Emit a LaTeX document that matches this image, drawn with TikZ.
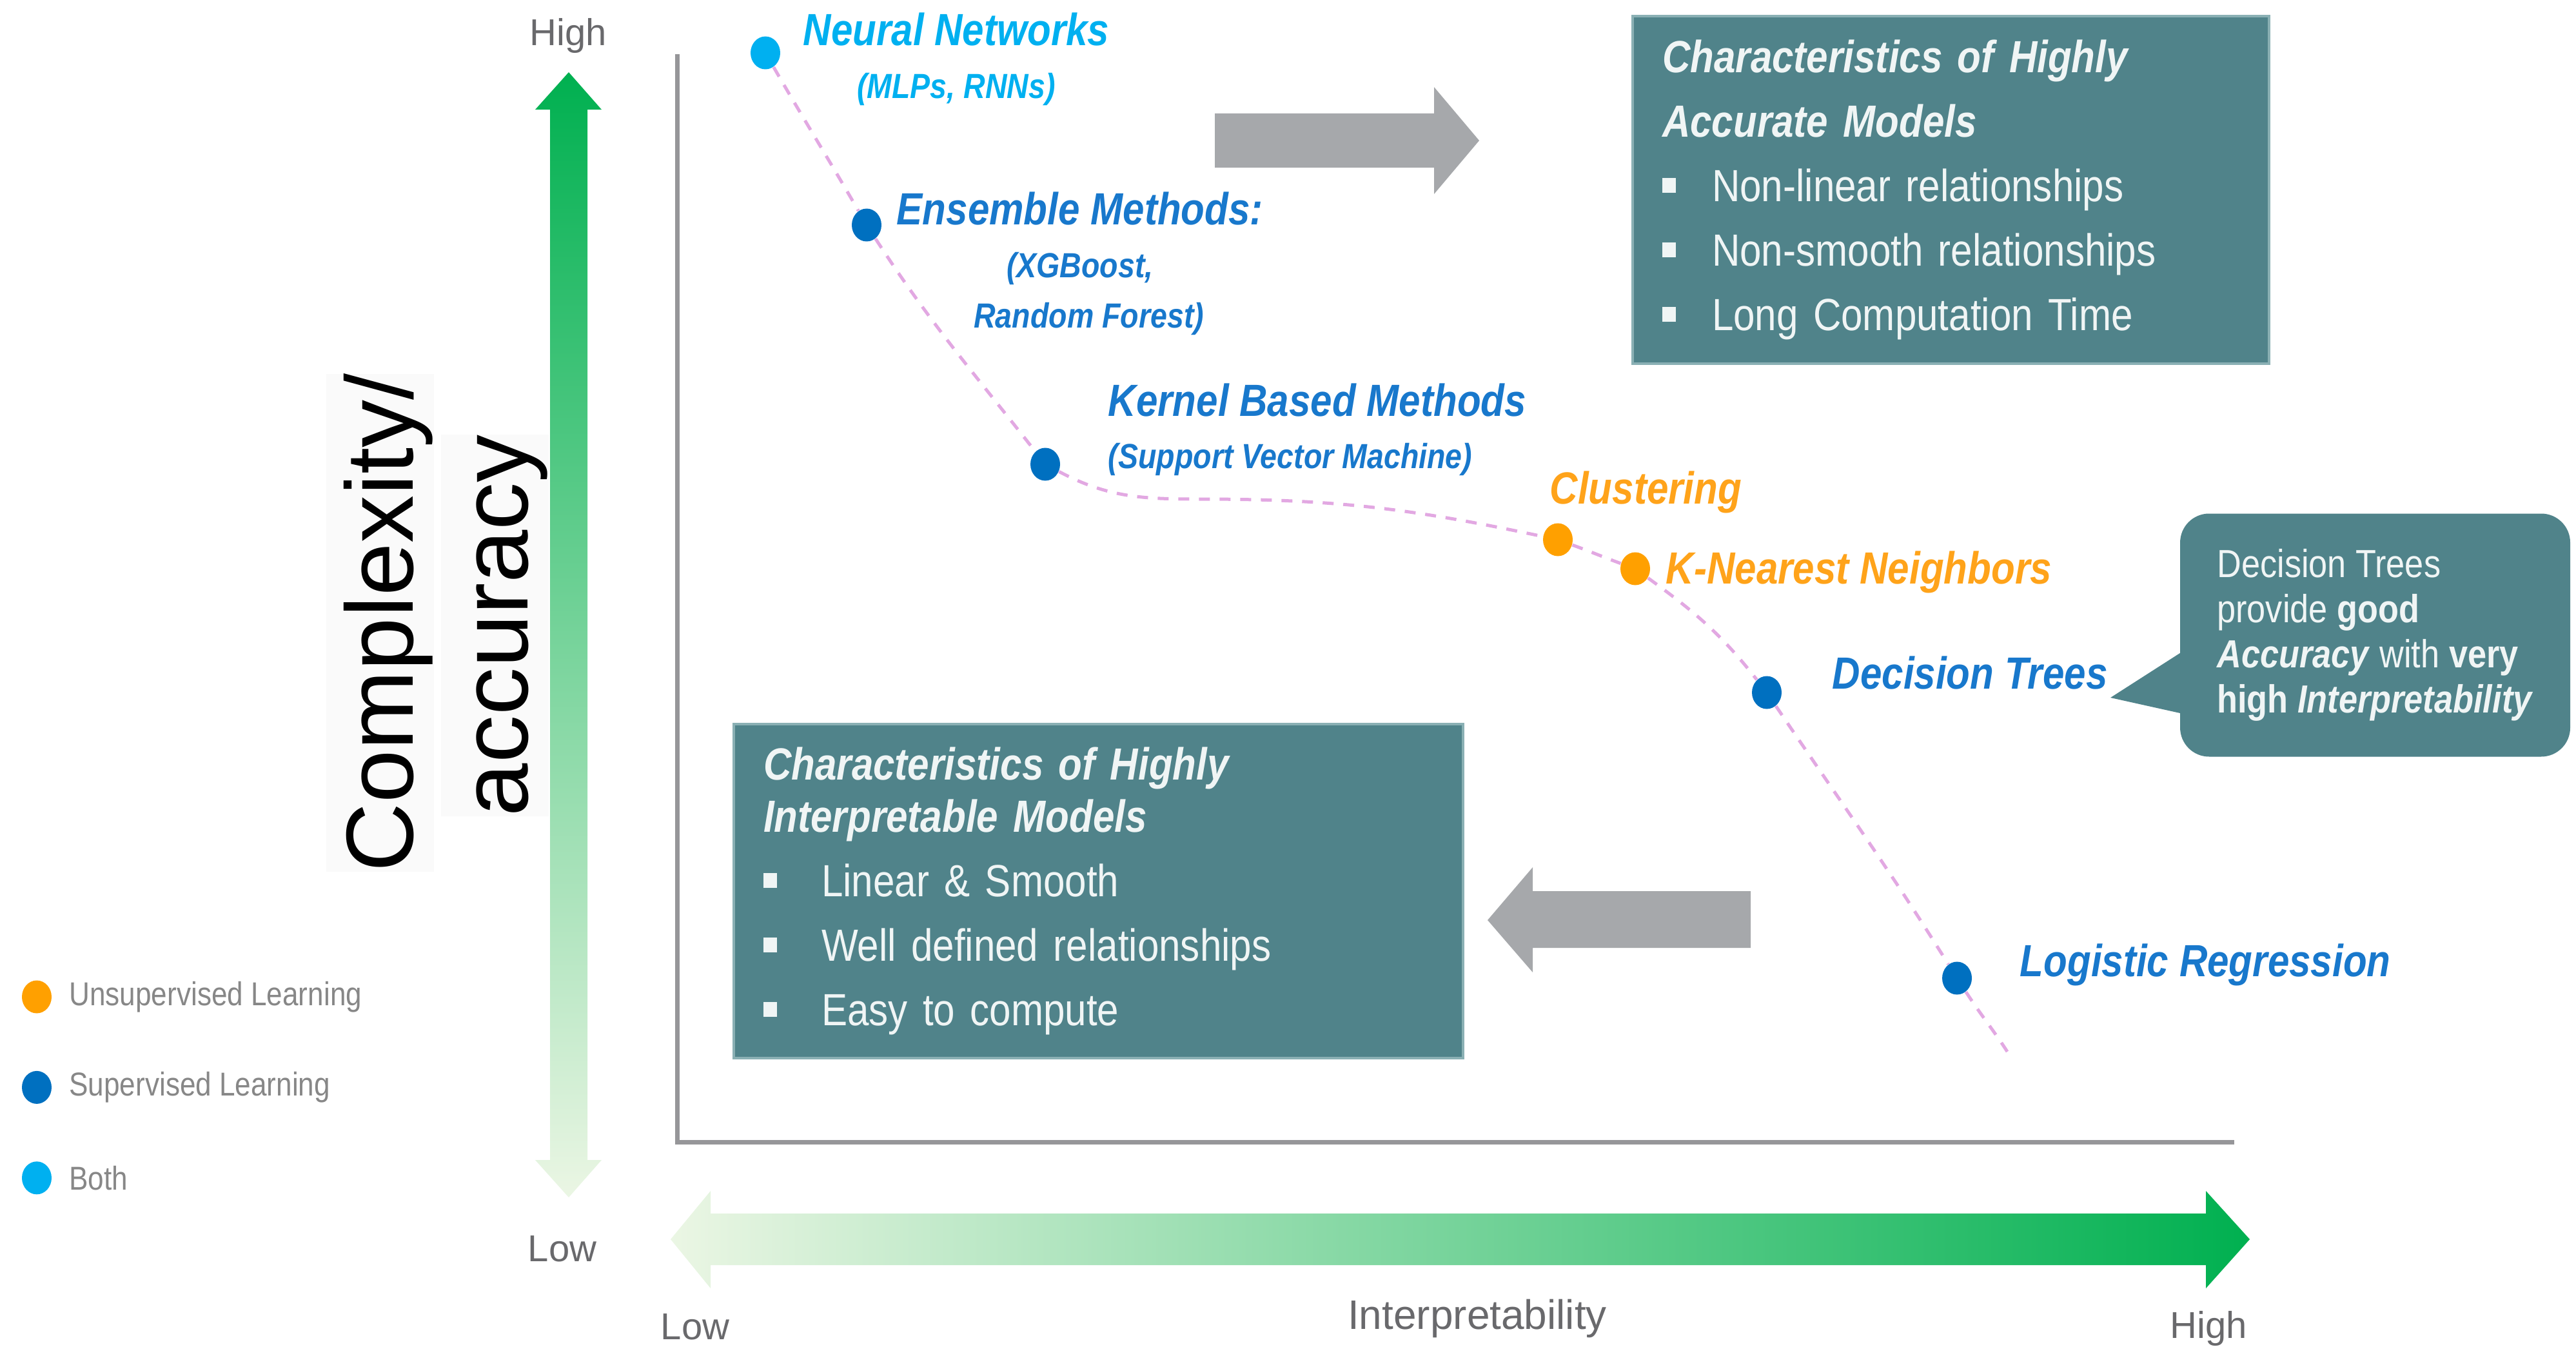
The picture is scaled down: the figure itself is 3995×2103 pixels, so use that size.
\documentclass[tikz,border=0pt]{standalone}
\usepackage{fontspec}
\setmainfont{Liberation Sans}
\newfontfamily\narrowsf{Liberation Sans}[FakeStretch=0.86]
\usepackage{tikz}
\usetikzlibrary{positioning}
\usetikzlibrary{shapes.geometric}

\definecolor{boxteal}{RGB}{80,131,138}
\definecolor{boxedge}{RGB}{138,176,180}
\definecolor{boxtext}{RGB}{240,245,245}
\definecolor{arrowgray}{RGB}{166,168,171}
\definecolor{axisgray}{RGB}{150,150,153}
\definecolor{labelgray}{RGB}{105,105,108}
\definecolor{legendgray}{RGB}{135,135,135}
\definecolor{arrowgreen}{RGB}{0,176,80}
\definecolor{fadegreen}{RGB}{235,246,228}
\definecolor{bothblue}{RGB}{0,176,240}
\definecolor{supblue}{RGB}{0,112,192}
\definecolor{suptext}{RGB}{24,120,204}
\definecolor{unsuporange}{RGB}{255,160,0}
\definecolor{unsuptext}{RGB}{255,163,26}
\definecolor{curvepink}{RGB}{226,168,226}
\definecolor{titlebg}{RGB}{250,250,250}

\newcommand{\sqbullet}{\rule[1.4mm]{2.1mm}{2.3mm}}

\tikzset{
  modeldot/.style={ellipse, inner sep=0pt, minimum width=4.6mm, minimum height=5.1mm},
  pointlabel/.style={anchor=base west, inner sep=0pt,
    font=\narrowsf\bfseries\itshape\fontsize{19.9}{24}\selectfont},
  sublabel/.style={inner sep=0pt,
    font=\narrowsf\bfseries\itshape\fontsize{15.4}{18}\selectfont},
  legendtext/.style={inner sep=0pt, text=legendgray,
    font=\narrowsf\fontsize{14.6}{17}\selectfont},
  axislabel/.style={anchor=base, inner sep=0pt, text=labelgray,
    font=\fontsize{16.5}{19}\selectfont},
  ytitle/.style={rotate=90, anchor=base, fill=titlebg, inner sep=0pt,
    text height=13.4mm, text depth=3.3mm, font=\fontsize{42.1}{48}\selectfont},
  tealbox/.style={fill=boxteal, draw=boxedge, line width=0.4mm, inner xsep=4.6mm,
    inner ysep=0pt, align=left, text=boxtext,
    font=\narrowsf\fontsize{19.9}{28.45}\selectfont},
  notebox/.style={fill=boxteal, rounded corners=4.5mm, inner sep=0pt,
    minimum width=60.5mm, minimum height=37.7mm, align=left, text=boxtext,
    font=\narrowsf\fontsize{17.3}{19.9}\selectfont}
}

\begin{document}
\begin{tikzpicture}[x=0.1mm, y=0.1mm,
      tradeoff/.style={draw=curvepink, line width=0.5mm, dash pattern=on 1.7mm off 1.5mm},
      axisline/.style={draw=axisgray, line width=0.7mm},
      bigarrow/.style={fill=arrowgray}]

    \useasboundingbox (0,0) rectangle (3995,-2103);

    \shade[top color=arrowgreen, bottom color=fadegreen]
      (882,-112) -- (933,-170) -- (911,-170) -- (911,-1799) -- (933,-1799)
      -- (882,-1857) -- (830,-1799) -- (853,-1799) -- (853,-170) -- (830,-170) -- cycle;
    \shade[left color=fadegreen, right color=arrowgreen]
      (1040,-1922) -- (1102,-1847) -- (1102,-1882) -- (3421,-1882) -- (3421,-1847)
      -- (3489,-1922) -- (3421,-1998) -- (3421,-1962) -- (1102,-1962) -- (1102,-1998) -- cycle;

    \coordinate (ytop) at (1050,-84);
    \coordinate (origin) at (1050,-1771);
    \coordinate (xend) at (3465,-1771);
    \draw[axisline] (ytop) -- (origin) -- (xend);

    \node[axislabel]
      (yhigh) at (881,-71) {High};
    \node[axislabel]
      (ylow) at (872,-1956) {Low};
    \node[axislabel]
      (xlow) at (1078,-2077) {Low};
    \node[axislabel]
      (xhigh) at (3425,-2075) {High};
    \node[axislabel, font=\fontsize{18.2}{21}\selectfont]
      (xtitle) at (2291,-2061) {Interpretability};

    \node[ytitle]
      (ytitlea) at (640,-966) {Complexity/};
    \node[ytitle]
      (ytitleb) at (818,-970) {accuracy};

    \node[tealbox, text width=89.5mm, minimum width=98.7mm, minimum height=53.9mm]
      (accbox) at (3025.5,-294.5)
      {{\bfseries\itshape Characteristics of Highly}\\
       {\bfseries\itshape Accurate Models}\\
       \sqbullet\hspace{5.6mm}Non-linear relationships\\
       \sqbullet\hspace{5.6mm}Non-smooth relationships\\
       \sqbullet\hspace{5.6mm}Long Computation Time};
    \node[tealbox, text width=103.9mm, minimum width=113.1mm, minimum height=51.8mm]
      (interpbox) at (1703.5,-1382)
      {{\bfseries\itshape Characteristics of Highly}\\[-1.9mm]
       {\bfseries\itshape Interpretable Models}\\
       \sqbullet\hspace{6.9mm}Linear \& Smooth\\
       \sqbullet\hspace{6.9mm}Well defined relationships\\
       \sqbullet\hspace{6.9mm}Easy to compute};

    \fill[bigarrow] (1884,-176) -- (2224,-176) -- (2224,-135) -- (2294,-218)
      -- (2224,-301) -- (2224,-260) -- (1884,-260) -- cycle;
    \fill[bigarrow] (2715,-1382) -- (2377,-1382) -- (2377,-1345) -- (2307,-1427)
      -- (2377,-1508) -- (2377,-1470) -- (2715,-1470) -- cycle;

    \fill[boxteal] (3273,-1082) -- (3390,-1007) -- (3390,-1108) -- cycle;
    \node[notebox]
      (dtnote) at (3683.5,-985)
      {Decision Trees\\
       provide \textbf{good}\\
       \textbf{\textit{Accuracy}} with \textbf{very}\\
       \textbf{high} \textbf{\textit{Interpretability}}};

    \node[modeldot, fill=bothblue]
      (nn) at (1187,-82) {};
    \node[modeldot, fill=supblue]
      (ens) at (1344,-349) {};
    \node[modeldot, fill=supblue]
      (svm) at (1621,-720) {};
    \node[modeldot, fill=unsuporange]
      (clust) at (2416,-837) {};
    \node[modeldot, fill=unsuporange]
      (knn) at (2536,-882) {};
    \node[modeldot, fill=supblue]
      (dtree) at (2740,-1074) {};
    \node[modeldot, fill=supblue]
      (logreg) at (3035,-1517) {};

    \coordinate (plateau) at (1860,-774);
    \coordinate (curveend) at (3113,-1631);
    \draw[tradeoff] (nn) to[out=-60,in=120] (ens)
      to[out=-57,in=128] (svm)
      to[out=-28,in=180] (plateau)
      to[out=0,in=168] (clust)
      to[out=-20,in=160] (knn)
      to[out=-36,in=128] (dtree)
      to[out=-56,in=122] (logreg)
      to[out=-57,in=123] (curveend);

    \node[pointlabel, text=bothblue]
      (nnlabel) at (1245,-71) {Neural Networks};
    \node[sublabel, text=bothblue]
      (nnsub) [below=4mm of nnlabel] {(MLPs, RNNs)};
    \node[pointlabel, text=suptext]
      (enslabel) at (1390,-349) {Ensemble Methods:};
    \node[sublabel, text=suptext]
      (enssuba) [below=4mm of enslabel] {(XGBoost,};
    \node[sublabel, text=suptext]
      (enssubb) [below=2.6mm of enssuba, xshift=1.4mm] {Random Forest)};
    \node[pointlabel, text=suptext]
      (svmlabel) at (1718,-645) {Kernel Based Methods};
    \node[sublabel, text=suptext]
      (svmsub) [below=4mm of svmlabel.south west, anchor=north west] {(Support Vector Machine)};
    \node[pointlabel, text=unsuptext]
      (clustlabel) at (2403,-781) {Clustering};
    \node[pointlabel, text=unsuptext]
      (knnlabel) at (2583,-905) {K-Nearest Neighbors};
    \node[pointlabel, text=suptext]
      (dtlabel) at (2841,-1068) {Decision Trees};
    \node[pointlabel, text=suptext]
      (lrlabel) at (3132,-1514) {Logistic Regression};

    \node[modeldot, fill=unsuporange]
      (unsupdot) at (57,-1546) {};
    \node[legendtext]
      (unsuplabel) [right=2.6mm of unsupdot] {Unsupervised Learning};
    \node[modeldot, fill=supblue]
      (supdot) [below=8.8mm of unsupdot] {};
    \node[legendtext]
      (suplabel) [right=2.6mm of supdot] {Supervised Learning};
    \node[modeldot, fill=bothblue]
      (bothdot) [below=8.8mm of supdot] {};
    \node[legendtext]
      (bothlabel) [right=2.6mm of bothdot] {Both};

\end{tikzpicture}
\end{document}
